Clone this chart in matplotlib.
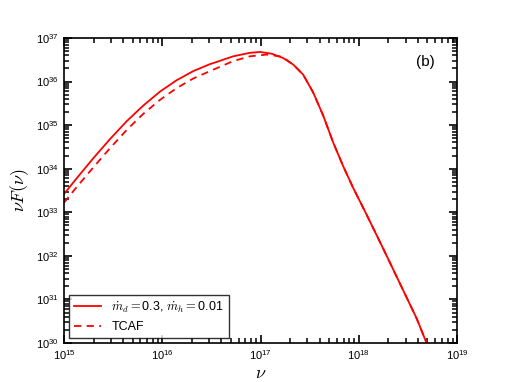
import numpy as np
import matplotlib
matplotlib.use("Agg")
import matplotlib.pyplot as plt
from matplotlib.ticker import LogLocator, NullFormatter

plt.rcParams['font.family'] = ['Liberation Sans', 'DejaVu Sans']
plt.rcParams['mathtext.fontset'] = 'custom'
plt.rcParams['mathtext.rm'] = 'Liberation Sans'
plt.rcParams['mathtext.it'] = 'Liberation Sans:italic'

# log10(nu), log10(nu F_nu)
lognu_solid = [15.0, 15.129, 15.298, 15.468, 15.638, 15.807, 15.977, 16.146, 16.315,
               16.485, 16.553, 16.722, 16.892, 16.994, 17.113, 17.231, 17.333, 17.434,
               17.536, 17.638, 17.740, 17.841, 17.943, 18.079, 18.248, 18.418, 18.588,
               18.690]
logf_solid = [33.42, 33.78, 34.24, 34.68, 35.09, 35.45, 35.77, 36.03, 36.24,
              36.40, 36.45, 36.58, 36.66, 36.68, 36.64, 36.54, 36.39, 36.16,
              35.75, 35.22, 34.60, 34.06, 33.56, 32.95, 32.17, 31.37, 30.57,
              30.0]

lognu_tcaf = [15.0, 15.129, 15.298, 15.468, 15.638, 15.807, 15.977, 16.146, 16.315,
              16.485, 16.722, 16.892, 17.062, 17.197, 17.265, 17.333, 17.434,
              17.536, 17.638, 17.740, 17.841, 17.943, 18.079, 18.248, 18.418, 18.588,
              18.690]
logf_tcaf = [33.22, 33.58, 34.03, 34.47, 34.89, 35.26, 35.58, 35.85, 36.07,
             36.24, 36.47, 36.58, 36.62, 36.58, 36.50, 36.39, 36.16,
             35.75, 35.22, 34.60, 34.06, 33.56, 32.95, 32.17, 31.37, 30.57,
             30.0]

label_solid = r'$\dot{m}_d=$0.3, $\dot{m}_h=$0.01'
label_tcaf = 'TCAF'

fig = plt.figure(figsize=(5.09, 3.82), dpi=100)
ax = fig.add_axes([0.1257, 0.102, 0.7722, 0.7985])

ax.plot(10 ** np.array(lognu_solid), 10 ** np.array(logf_solid), color='red', lw=1.3,
        label=label_solid)
ax.plot(10 ** np.array(lognu_tcaf), 10 ** np.array(logf_tcaf), color='red', lw=1.3,
        ls=(0, (4, 3)), label=label_tcaf)

ax.set_xscale('log')
ax.set_yscale('log')
ax.set_xlim(1e15, 1e19)
ax.set_ylim(1e30, 1e37)

for a in (ax.xaxis, ax.yaxis):
    a.set_major_locator(LogLocator(base=10, numticks=20))
    a.set_minor_locator(LogLocator(base=10, subs=np.arange(2, 10), numticks=20))
    a.set_minor_formatter(NullFormatter())

ax.tick_params(which='both', direction='in', top=True, right=True, labelsize=8, pad=4)
ax.tick_params(which='major', length=6, width=1.2)
ax.tick_params(which='minor', length=3.5, width=1.1)
for s in ax.spines.values():
    s.set_linewidth(1.2)

ax.set_xlabel(r'$\nu$', fontsize=13, labelpad=2, math_fontfamily='cm')
ax.set_ylabel(r'$\nu F(\nu)$', fontsize=13, labelpad=3, math_fontfamily='cm')

ax.text(0.92, 0.92, '(b)', transform=ax.transAxes, fontsize=11, ha='center', va='center')

leg = ax.legend(loc='lower left', fontsize=9, frameon=True, fancybox=False,
                edgecolor='black', handlelength=2.2, borderaxespad=0.4)
leg.get_frame().set_linewidth(1.0)
for t in leg.get_texts():
    t.set_math_fontfamily('cm')

fig.savefig('out.png', dpi=100)
